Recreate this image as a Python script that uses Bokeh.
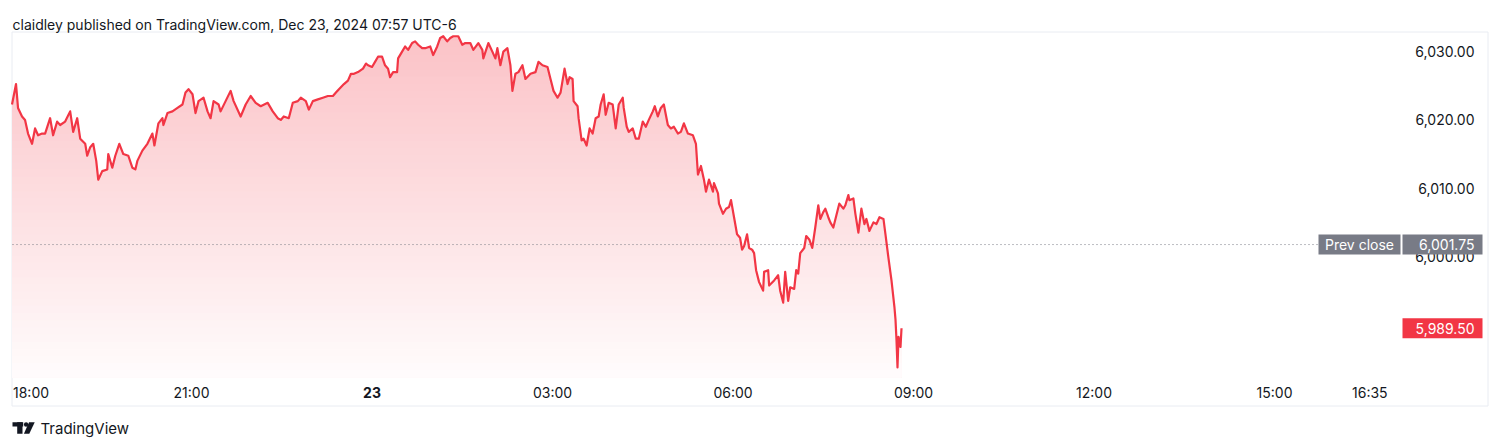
import numpy as np
from bokeh.plotting import figure
from bokeh.models import Range1d, ColumnDataSource
from bokeh.embed import file_html
from bokeh.resources import INLINE
from bokeh.core.properties import value

# ---------------- data ----------------
title_text = "claidley published on TradingView.com, Dec 23, 2024 07:57 UTC-6"
brand_text = "TradingView"

# minutes elapsed since 18:00 (Dec 22) and ES price
minutes_since_1800 = [
    1, 5, 7, 11, 14, 17, 21, 24, 27, 31, 34, 39,
    42, 46, 49, 54, 59, 62, 66, 69, 74, 76, 79, 82,
    85, 87, 91, 96, 97, 101, 104, 108, 112, 117, 121, 124,
    126, 131, 136, 141, 143, 147, 151, 152, 156, 161, 166, 171,
    174, 177, 181, 184, 187, 192, 196, 199, 202, 207, 209, 214,
    219, 222, 229, 234, 239, 244, 249, 256, 261, 266, 269, 272,
    277, 281, 286, 289, 294, 297, 301, 306, 311, 316, 321, 324,
    327, 332, 336, 339, 342, 346, 351, 354, 356, 360, 363, 366,
    370, 373, 376, 378, 381, 385, 386, 390, 393, 396, 400, 403,
    406, 410, 413, 418, 421, 425, 428, 431, 435, 438, 441, 446,
    450, 453, 458, 461, 466, 470, 471, 476, 480, 483, 485, 488,
    491, 495, 498, 500, 503, 506, 510, 513, 518, 523, 526, 530,
    535, 538, 541, 545, 548, 552, 555, 557, 560, 561, 565, 566,
    569, 571, 574, 577, 580, 583, 586, 588, 591, 593, 596, 600,
    603, 606, 610, 611, 614, 616, 620, 623, 626, 630, 633, 636,
    640, 642, 645, 648, 651, 655, 658, 661, 665, 668, 671, 675,
    680, 683, 685, 688, 691, 693, 696, 700, 701, 705, 706, 710,
    713, 716, 718, 721, 724, 727, 729, 731, 734, 736, 739, 741,
    743, 746, 750, 751, 755, 756, 761, 765, 767, 770, 772, 775,
    777, 781, 783, 785, 787, 791, 793, 796, 799, 802, 805, 807,
    810, 812, 815, 817, 820, 823, 826, 830, 832, 835, 836, 840,
    842, 845, 848, 851, 853, 856, 860, 863, 866, 870, 872, 875,
    878, 881, 882, 883, 884, 885, 887, 888,
]
prices = [
    6022.25, 6025.25, 6021.75, 6020.50, 6020.00, 6018.00, 6016.50, 6018.75, 6017.75, 6018.00, 6018.00, 6020.25,
    6017.75, 6019.75, 6019.25, 6019.75, 6021.25, 6018.25, 6020.25, 6017.25, 6016.50, 6014.75, 6016.00, 6016.50,
    6014.00, 6011.25, 6012.50, 6012.75, 6015.00, 6013.00, 6014.75, 6016.50, 6015.00, 6014.75, 6013.00, 6012.75,
    6014.00, 6015.50, 6016.50, 6018.00, 6016.25, 6019.50, 6020.25, 6019.25, 6021.00, 6021.25, 6021.75, 6022.25,
    6024.00, 6024.50, 6023.75, 6021.00, 6022.75, 6023.25, 6021.25, 6020.25, 6022.75, 6022.25, 6021.25, 6022.75,
    6024.25, 6022.75, 6020.50, 6022.25, 6023.50, 6022.50, 6022.00, 6022.50, 6021.25, 6020.25, 6020.00, 6020.50,
    6020.25, 6022.50, 6022.75, 6023.25, 6022.75, 6021.50, 6022.75, 6023.00, 6023.25, 6023.50, 6023.50, 6024.00,
    6024.50, 6025.25, 6025.75, 6026.75, 6026.75, 6027.00, 6027.50, 6028.25, 6028.00, 6027.75, 6028.50, 6029.25,
    6029.25, 6028.00, 6027.50, 6026.25, 6027.00, 6027.00, 6029.00, 6030.00, 6030.75, 6030.25, 6031.25, 6031.50,
    6031.00, 6030.50, 6030.50, 6030.75, 6029.50, 6030.75, 6032.00, 6032.25, 6031.50, 6032.00, 6032.25, 6032.25,
    6031.00, 6031.25, 6031.25, 6030.25, 6031.25, 6030.25, 6029.00, 6031.25, 6030.00, 6029.00, 6030.50, 6028.00,
    6030.00, 6030.50, 6028.00, 6024.25, 6026.75, 6027.00, 6028.00, 6026.00, 6026.75, 6027.00, 6028.50, 6028.00,
    6027.75, 6026.00, 6024.25, 6023.25, 6024.00, 6027.50, 6025.25, 6026.25, 6026.00, 6022.75, 6022.00, 6020.25,
    6017.00, 6017.25, 6016.25, 6018.75, 6018.00, 6020.25, 6020.50, 6022.25, 6023.75, 6020.75, 6022.50, 6022.25,
    6018.75, 6022.25, 6023.25, 6021.75, 6019.00, 6018.25, 6018.75, 6017.25, 6017.25, 6019.75, 6019.00, 6020.00,
    6021.25, 6022.00, 6020.50, 6021.75, 6022.25, 6019.25, 6018.75, 6019.00, 6018.00, 6018.25, 6019.50, 6018.00,
    6017.75, 6016.50, 6012.00, 6013.25, 6011.25, 6009.50, 6011.25, 6009.50, 6010.75, 6009.25, 6007.75, 6006.25,
    6007.00, 6007.25, 6008.25, 6005.75, 6003.25, 6002.75, 6001.00, 6001.50, 6003.25, 6001.25, 6001.00, 6000.50,
    5998.00, 5996.25, 5995.00, 5997.75, 5998.00, 5995.75, 5996.50, 5997.25, 5995.00, 5993.25, 5997.75, 5993.50,
    5995.50, 5995.25, 5998.00, 5997.50, 6000.50, 6001.25, 6003.00, 6002.50, 6001.25, 6004.25, 6007.50, 6005.50,
    6006.50, 6007.00, 6005.75, 6005.00, 6004.25, 6006.00, 6007.75, 6007.00, 6007.50, 6009.00, 6008.25, 6008.50,
    6006.25, 6003.50, 6007.00, 6004.75, 6005.50, 6003.75, 6005.00, 6004.75, 6005.75, 6005.50, 6003.25, 5999.75,
    5996.50, 5992.50, 5990.75, 5987.75, 5983.75, 5988.25, 5986.75, 5989.50,
]
assert len(minutes_since_1800) == len(prices)

prev_close = 6001.75
last_price = 5989.50
price_ticks = [6000, 6010, 6020, 6030]
time_ticks = [0, 180, 360, 540, 720, 900, 1080, 1260, 1355]
time_tick_labels = ["18:00", "21:00", "23", "03:00", "06:00", "09:00", "12:00", "15:00", "16:35"]

# ---------------- layout / scales ----------------
W, H = 1492, 440
PX_PER_MIN = 1.00283      # horizontal scale
X_1800 = 10.5             # canvas x of 18:00
PX_PER_PT = 6.83          # vertical scale
Y_6000 = 256.0            # canvas y (from top) of 6000
PANE_TOP, PANE_BOTTOM = 33.0, 377.0   # canvas y of data pane
RED = "#f23645"
GREY = "#787b86"
TXT = "#131722"
FONT = value("Inter")

def y_to_price(y):
    return 6000 + (Y_6000 - y) / PX_PER_PT

p = figure(width=W, height=H, x_range=Range1d(0, W), y_range=Range1d(H, 0),
           output_backend="svg", toolbar_location=None,
           x_axis_location=None, y_axis_location=None, min_border=0,
           outline_line_color=None, background_fill_color="white",
           border_fill_color="white")
p.grid.visible = False
p.extra_x_ranges = {"t": Range1d(-X_1800 / PX_PER_MIN, (W - X_1800) / PX_PER_MIN)}
p.extra_y_ranges = {"p": Range1d(y_to_price(H), y_to_price(0))}

t = np.array(minutes_since_1800, dtype=float)
pr = np.array(prices, dtype=float)

# chart box border
p.quad(left=11.5, right=1487.5, top=31.5, bottom=405.5, fill_color=None,
       line_color="#e9ecf2", line_width=1)

# gradient area (stacked bands, top colour drawn first)
top_p, bot_p = y_to_price(PANE_TOP), y_to_price(PANE_BOTTOM)
N = 48
edges = np.linspace(bot_p, top_p, N + 1)
base = np.array([242, 54, 69], dtype=float)
for k in range(N, 0, -1):
    mid = 0.5 * (edges[k - 1] + edges[k])
    frac = (mid - bot_p) / (top_p - bot_p)
    a = 0.015 + 0.29 * frac
    c = (255 * (1 - a) + base * a).round().astype(int)
    col = "#%02x%02x%02x" % tuple(c)
    p.varea(x=t, y1=bot_p, y2=np.minimum(pr, edges[k]), fill_color=col,
            x_range_name="t", y_range_name="p")

# previous close dotted line
p.segment(x0=12, x1=1318, y0=prev_close, y1=prev_close, line_color=GREY,
          line_width=1, line_dash="1 3", y_range_name="p")

# price line
p.line(t, pr, line_color=RED, line_width=2.2, line_join="round",
       x_range_name="t", y_range_name="p")

# price axis labels
p.text(x=[1474] * len(price_ticks), y=price_ticks,
       text=[f"{v:,.2f}" for v in price_ticks], text_align="right",
       text_baseline="middle", text_font_size="14px", text_color=TXT,
       text_font=FONT, y_range_name="p")

# prev close badges
h = 10 / PX_PER_PT
p.quad(left=1318, right=1400, top=prev_close + h, bottom=prev_close - h,
       fill_color=GREY, line_color=None, y_range_name="p")
p.quad(left=1402, right=1482, top=prev_close + h, bottom=prev_close - h,
       fill_color=GREY, line_color=None, y_range_name="p")
p.text(x=[1359], y=[prev_close], text=["Prev close"], text_align="center",
       text_baseline="middle", text_font_size="14px", text_color="white",
       text_font=FONT, y_range_name="p")
p.text(x=[1474], y=[prev_close], text=[f"{prev_close:,.2f}"], text_align="right",
       text_baseline="middle", text_font_size="14px", text_color="white",
       text_font=FONT, y_range_name="p")

# last price badge
p.quad(left=1402, right=1482, top=last_price + h, bottom=last_price - h,
       fill_color=RED, line_color=None, y_range_name="p")
p.text(x=[1474], y=[last_price], text=[f"{last_price:,.2f}"], text_align="right",
       text_baseline="middle", text_font_size="14px", text_color="white",
       text_font=FONT, y_range_name="p")

# time axis labels
n = len(time_ticks)
tsrc = ColumnDataSource(dict(
    x=time_ticks, y=[391.5] * n, text=time_tick_labels,
    align=["left"] + ["center"] * (n - 1),
    style=["bold" if lab == "23" else "normal" for lab in time_tick_labels],
    xo=[2] + [0] * (n - 1),
))
p.text(x="x", y="y", text="text", source=tsrc, text_align="align",
       text_font_style="style", x_offset="xo", text_baseline="middle",
       text_font_size="14px", text_color=TXT, text_font=FONT, x_range_name="t")

# header
p.text(x=[12], y=[24], text=[title_text], text_align="left",
       text_baseline="alphabetic", text_font_size="14px", text_color=TXT,
       text_font=FONT)

# footer brand logo + text
p.quad(left=12, right=22.7, top=421.7, bottom=426, fill_color=TXT, line_color=None)
p.quad(left=16.7, right=22, top=421.7, bottom=433.3, fill_color=TXT, line_color=None)
p.circle(x=[25.6], y=[424], radius=2.2, fill_color=TXT, line_color=None)
p.patch(x=[28.5, 34.2, 28.8, 23.4], y=[421.7, 421.7, 433.3, 433.3],
        fill_color=TXT, line_color=None)
p.text(x=[40], y=[428], text=[brand_text], text_align="left",
       text_baseline="middle", text_font_size="15px", text_color=TXT,
       text_font=FONT)

open("out.html", "w").write(file_html(p, INLINE))
